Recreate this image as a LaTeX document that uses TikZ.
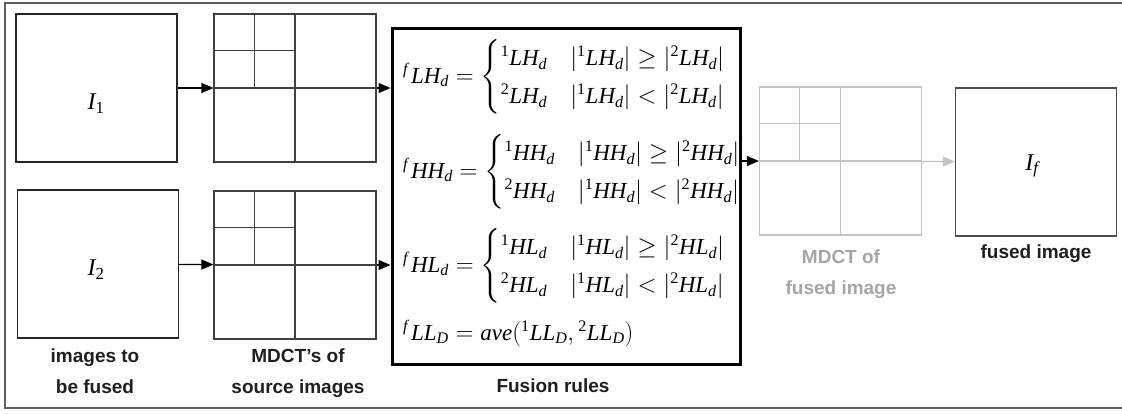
\documentclass[tikz,border=0pt]{standalone}
\usepackage{amsmath}
\usepackage{fontspec}
\setmainfont{Liberation Sans}
\newfontfamily\tms{Liberation Serif}
\usetikzlibrary{arrows.meta,calc,positioning}

\definecolor{framegray}{RGB}{95,95,95}
\definecolor{ghost}{RGB}{195,195,195}
\definecolor{ghosttext}{RGB}{165,165,165}

\tikzset{
  imgbox/.style={draw=black!85, line width=1.3pt, minimum width=161pt, minimum height=148pt, inner sep=0pt},
  gridbox/.style={draw=black!75, line width=1.1pt, minimum width=162pt, minimum height=148pt, inner sep=0pt},
  caption/.style={font=\bfseries\fontsize{19}{31}\selectfont, align=center, text=black!88},
  imglabel/.style={font=\fontsize{24}{24}\selectfont},
  rule/.style={anchor=west, inner sep=0pt, font=\fontsize{23}{27}\selectfont},
  flow/.style={-{Triangle[length=12pt,width=10pt]}, line width=1.2pt},
}

% grille MDCT dans une boite
\newcommand{\quadgrid}[2]{%
  \draw[#2] (#1.north) -- (#1.south);
  \draw[#2] (#1.west) -- (#1.east);
  \draw[#2] ($(#1.north west)!.5!(#1.north)$) -- ($(#1.west)!.5!(#1.center)$);
  \draw[#2] ($(#1.north west)!.5!(#1.west)$) -- ($(#1.north)!.5!(#1.center)$);
}
% lettres en Times
\newcommand{\tm}[1]{\text{\tms\itshape #1}}
\newcommand{\tn}[1]{\text{\tms #1}}
% coefficient: exposant, nom, indice
\newcommand{\cf}[3]{{}^{#1}\tm{#2}_{\tm{#3}}}
\newcommand{\absv}[1]{\left|#1\right|}
\newcommand{\choix}[1]{\cf{\tm{f}\,}{#1}{d}=\left\{\renewcommand{\arraystretch}{1.4}\begin{array}{@{}l@{\quad}l@{}}
  \cf{\tn{1}}{#1}{d} & \absv{\cf{\tn{1}}{#1}{d}}\ge\absv{\cf{\tn{2}}{#1}{d}}\\
  \cf{\tn{2}}{#1}{d} & \absv{\cf{\tn{1}}{#1}{d}}<\absv{\cf{\tn{2}}{#1}{d}}\end{array}\right.}

\begin{document}
\begin{tikzpicture}[x=1pt, y=-1pt]
\useasboundingbox (0,0) rectangle (1122,413);
\clip (0,0) rectangle (1122,413);
% cadre
\draw[framegray, line width=1.5pt] (5,3) rectangle (1140,408);

% images sources
\node[imgbox] (I1) at (96.5,88) {};
\node[imgbox] (I2) at (98,264) {};
\node[imglabel] (tI1) at (96,104) {$\tm{I}_{\tn{1}}$};
\node[imglabel] (tI2) at (96,270) {$\tm{I}_{\tn{2}}$};
\node[caption] (capI) at (95,371) {images to\\be fused};

% MDCT des sources
\node[gridbox] (M1) at (295,88) {};
\node[gridbox] (M2) at (295,265) {};
\quadgrid{M1}{black!75, line width=1.1pt}
\quadgrid{M2}{black!75, line width=1.1pt}
\node[caption] (capM) at (298,373) {MDCT's of\\source images};

% regles de fusion
\node[draw, line width=3pt, minimum width=348pt, minimum height=336pt] (F) at (566,196) {};
\node[caption] (capF) at (553,386) {Fusion rules};
\node[rule] (rLH) at (403,77) {$\choix{LH}$};
\node[rule] (rHH) at (403,172) {$\choix{HH}$};
\node[rule] (rHL) at (403,266) {$\choix{HL}$};
\node[rule] (rLL) at (403,333) {$\cf{\tm{f}\,}{LL}{D}=\tm{ave}(\cf{\tn{1}}{LL}{D},\cf{\tn{2}}{LL}{D})$};

% MDCT de l'image fusionnee
\node[gridbox, draw=ghost] (M3) at (840.5,161) {};
\quadgrid{M3}{ghost, line width=1.1pt}
\node[caption, text=ghosttext] (capM3) at (841,274) {MDCT of\\fused image};

% image fusionnee
\node[imgbox, draw=black!70] (If) at (1036,162) {};
\node[imglabel] (tIf) at (1032,166) {$\tm{I}_{\tm{f}}$};
\node[caption] (capIf) at (1036,254) {fused image};

% fleches
\draw[flow] (I1) -- (M1);
\draw[flow] (I2) -- (M2);
\draw[flow] (M1.east) -- (F.west |- M1.east);
\draw[flow] (M2.east) -- (F.west |- M2.east);
\draw[flow] (F.east |- M3.west) -- (M3.west);
\draw[flow, ghost] (M3) -- (If);
\end{tikzpicture}
\end{document}
